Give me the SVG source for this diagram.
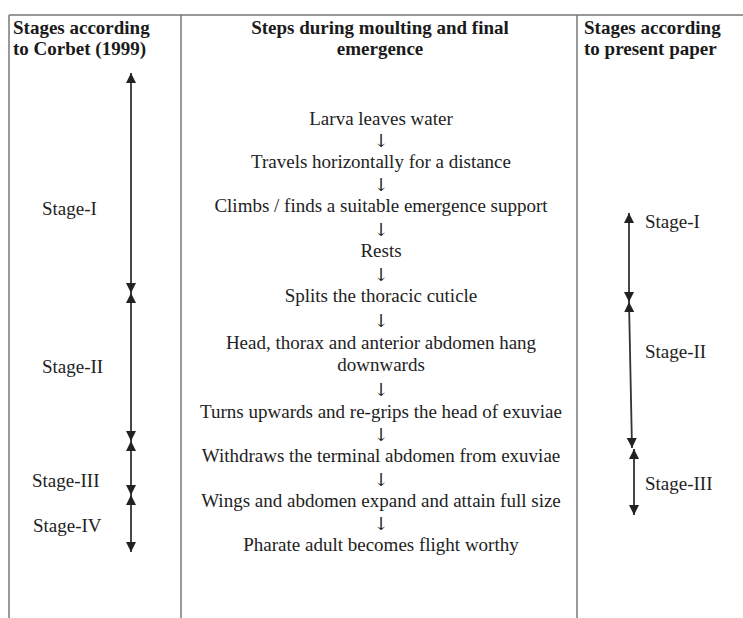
<svg xmlns="http://www.w3.org/2000/svg" width="743" height="618" viewBox="0 0 743 618">
<style>
.grid{stroke:#777;stroke-width:1.5;fill:none}
.hd{font-family:'Liberation Serif','DejaVu Serif',serif;font-weight:bold;font-size:19px;fill:#1a1a1a}
.tx{font-family:'Liberation Serif','DejaVu Serif',serif;font-size:19px;fill:#222}
.mid{text-anchor:middle}
.dn{font-family:'DejaVu Serif','DejaVu Sans',serif;font-size:18px;fill:#222}
.ar{stroke:#333;stroke-width:1.8;fill:none;marker-start:url(#ah);marker-end:url(#ah)}
</style>
<defs>
<marker id="ah" viewBox="0 0 10 10" refX="10" refY="5" markerWidth="10" markerHeight="10" markerUnits="userSpaceOnUse" orient="auto-start-reverse">
<path d="M0,0 L10,5 L0,10 z" fill="#222"/>
</marker>
</defs>
<rect width="743" height="618" fill="#fff"/>
<g id="table">
<line class="grid" x1="9" y1="15" x2="743" y2="15"/>
<line class="grid" x1="9" y1="15" x2="9" y2="618"/>
<line class="grid" x1="181" y1="15" x2="181" y2="618"/>
<line class="grid" x1="577" y1="15" x2="577" y2="618"/>
</g>
<g id="headers">
<text class="hd" x="13" y="34">Stages according</text>
<text class="hd" x="13" y="55">to Corbet (1999)</text>
<text class="hd mid" x="380" y="34">Steps during moulting and final</text>
<text class="hd mid" x="380" y="55">emergence</text>
<text class="hd" x="584" y="34">Stages according</text>
<text class="hd" x="584" y="55">to present paper</text>
</g>
<g id="steps" class="tx mid">
<text id="s1" x="381" y="125">Larva leaves water</text>
<text class="dn" x="381" y="147">↓</text>
<text id="s2" x="381" y="168">Travels horizontally for a distance</text>
<text class="dn" x="381" y="191">↓</text>
<text id="s3" x="381" y="212">Climbs / finds a suitable emergence support</text>
<text class="dn" x="381" y="236">↓</text>
<text id="s4" x="381" y="257">Rests</text>
<text class="dn" x="381" y="281">↓</text>
<text id="s5" x="381" y="302">Splits the thoracic cuticle</text>
<text class="dn" x="381" y="327">↓</text>
<text id="s6" x="381" y="349">Head, thorax and anterior abdomen hang</text>
<text x="381" y="371">downwards</text>
<text class="dn" x="381" y="396">↓</text>
<text id="s7" x="381" y="418">Turns upwards and re-grips the head of exuviae</text>
<text class="dn" x="381" y="441">↓</text>
<text id="s8" x="381" y="462">Withdraws the terminal abdomen from exuviae</text>
<text class="dn" x="381" y="486">↓</text>
<text id="s9" x="381" y="507">Wings and abdomen expand and attain full size</text>
<text class="dn" x="381" y="530">↓</text>
<text id="s10" x="381" y="551">Pharate adult becomes flight worthy</text>
</g>
<g id="corbet" class="tx">
<text id="c1" x="42" y="215">Stage-I</text>
<text id="c2" x="42" y="373">Stage-II</text>
<text id="c3" x="32" y="487">Stage-III</text>
<text id="c4" x="33" y="532">Stage-IV</text>
</g>
<g id="present" class="tx">
<text id="p1" x="645" y="228">Stage-I</text>
<text id="p2" x="645" y="358">Stage-II</text>
<text id="p3" x="645" y="490">Stage-III</text>
</g>
<g id="connectors">
<line class="ar" x1="131" y1="73" x2="131" y2="293"/>
<line class="ar" x1="131" y1="293" x2="131" y2="441"/>
<line class="ar" x1="131" y1="441" x2="131" y2="495"/>
<line class="ar" x1="131" y1="495" x2="131" y2="552"/>
<line class="ar" x1="629" y1="213" x2="629" y2="302"/>
<line class="ar" x1="629" y1="302" x2="632" y2="448"/>
<line class="ar" x1="634" y1="449" x2="634" y2="515"/>
</g>
</svg>
